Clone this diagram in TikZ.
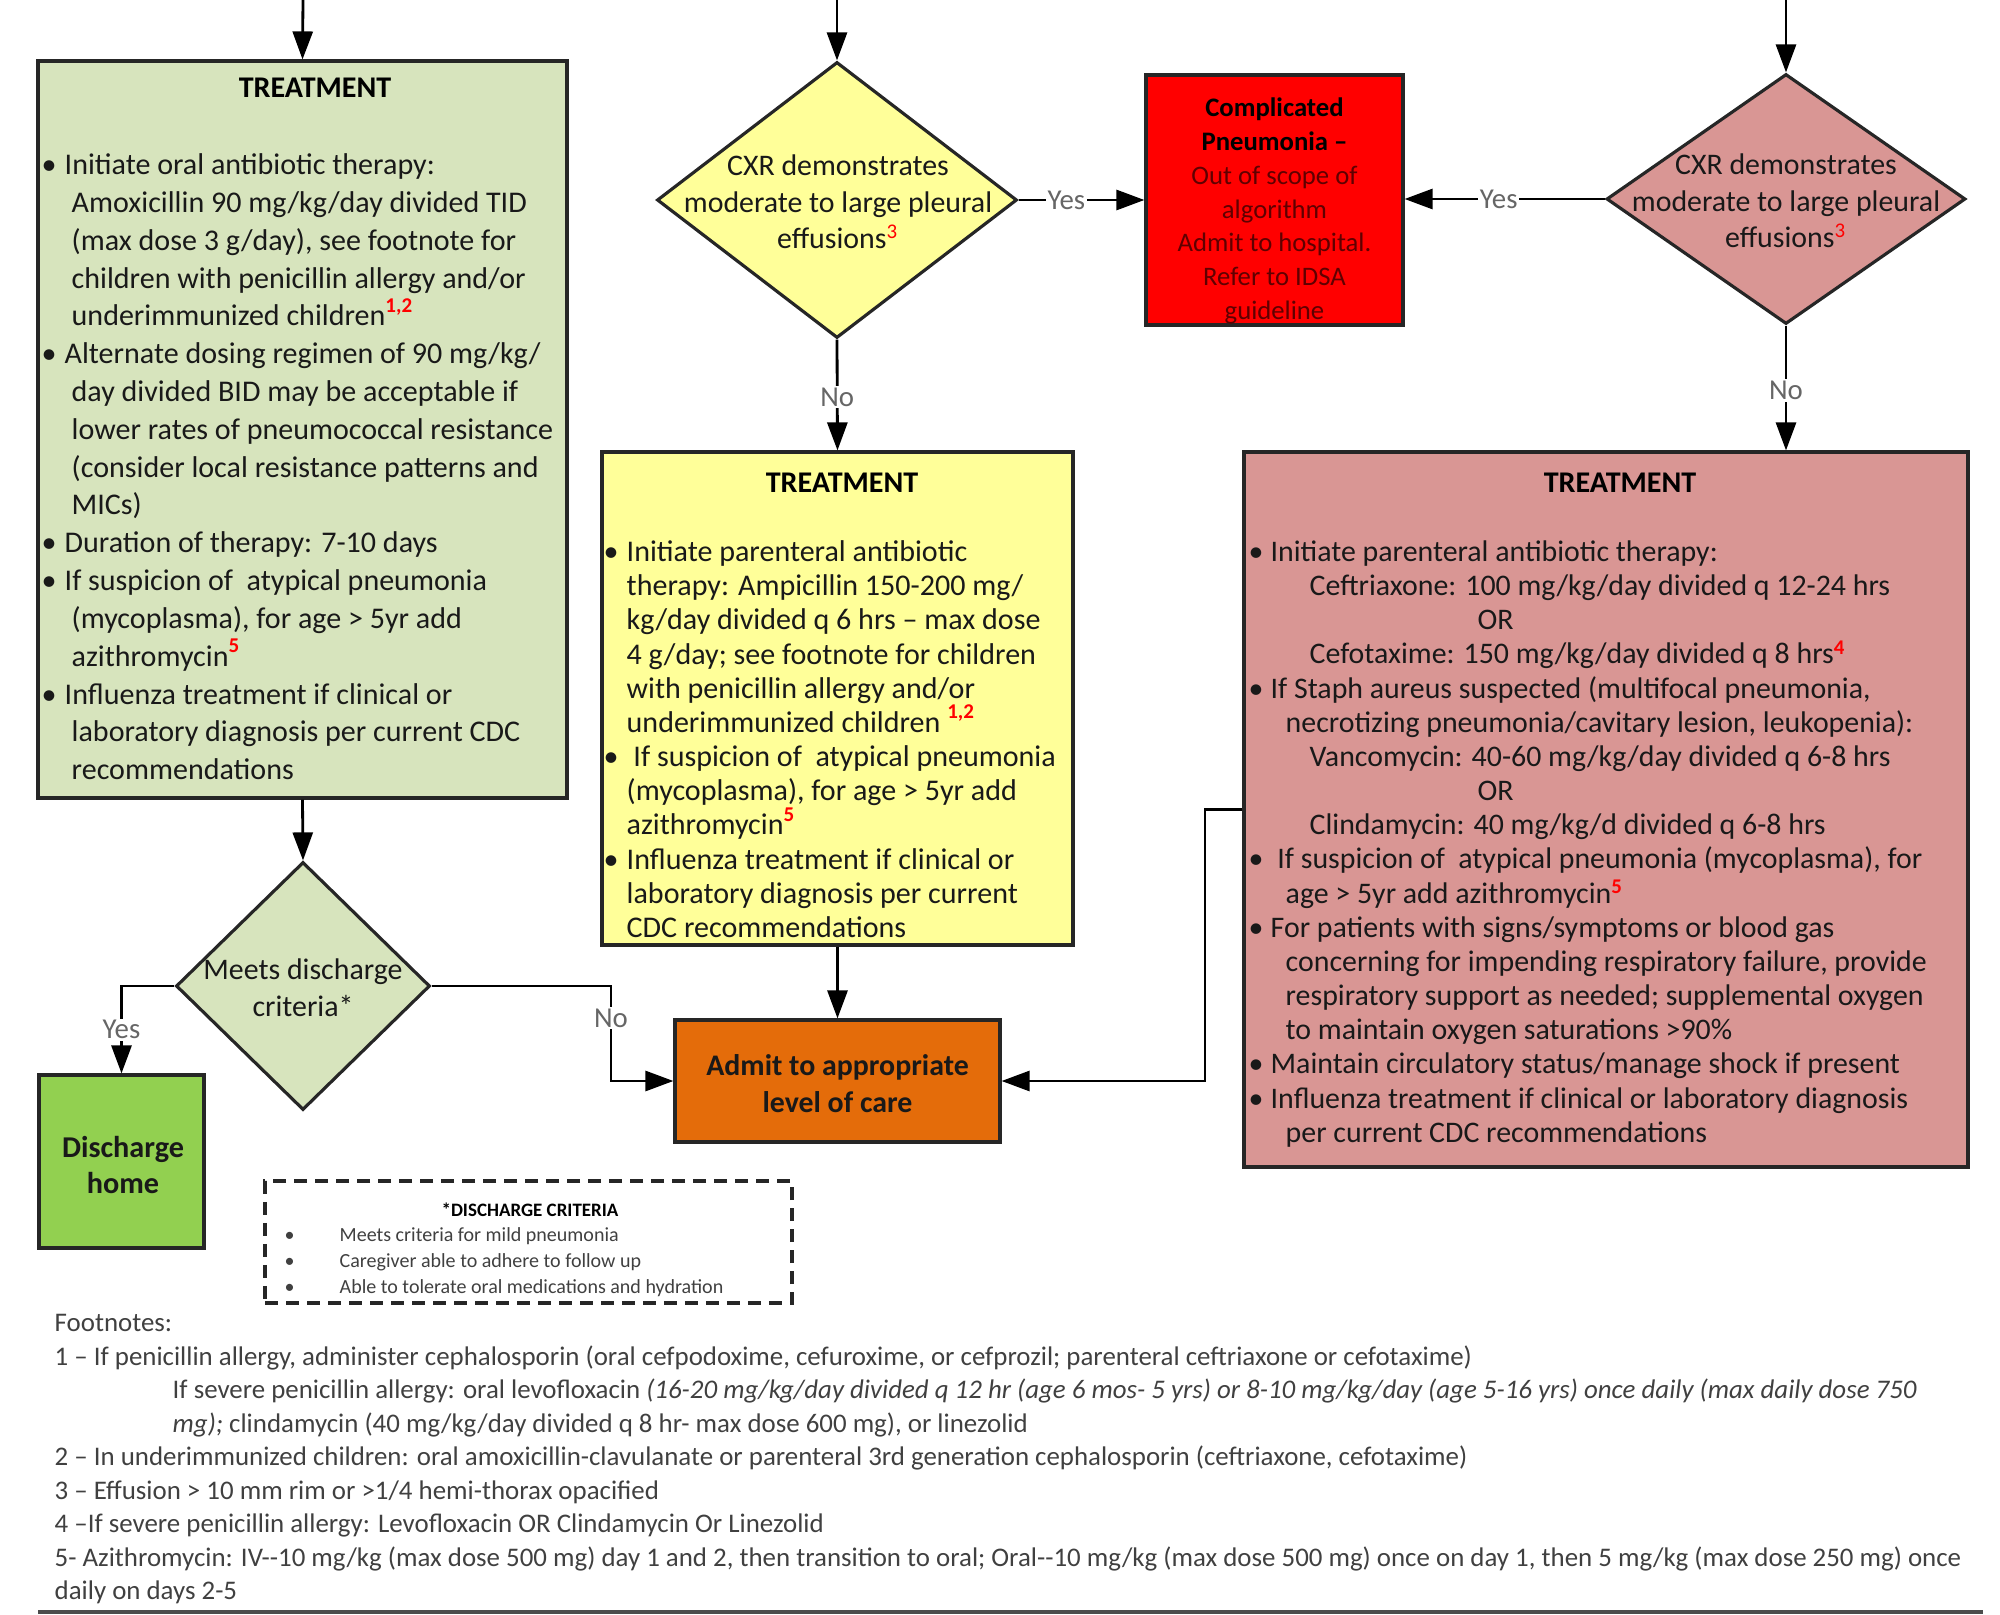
\documentclass[tikz,border=0pt]{standalone}
\usepackage{fontspec}
\setmainfont{Carlito}
\usepackage{tikz}
\usetikzlibrary{shapes.geometric,arrows.meta,calc}
\definecolor{sage}{RGB}{215,228,189}
\definecolor{paleyellow}{RGB}{255,255,153}
\definecolor{rosepink}{RGB}{217,150,148}
\definecolor{brightred}{RGB}{255,0,0}
\definecolor{burntorange}{RGB}{228,108,10}
\definecolor{leafgreen}{RGB}{146,208,80}
\definecolor{maroontext}{RGB}{95,0,0}
\definecolor{inkgray}{RGB}{64,64,64}
\newcommand{\fsz}[2]{\fontsize{#1}{#2}\selectfont}
\newcommand{\fnref}[1]{\textsuperscript{\textbf{\color{red}#1}}}
\newcommand{\bul}[1]{\makebox[#1][l]{\textbullet}}
\newcommand{\ind}[1]{\hspace*{#1}}
\tikzstyle{flowbox}=[rectangle,draw=black!85,line width=0.9pt,inner sep=0pt]
\tikzstyle{decision}=[diamond,draw=black!85,line width=0.9pt,inner sep=0pt]
\tikzstyle{head}=[font=\bfseries\fsz{8.55}{10.4},inner sep=0pt]
\tikzstyle{listtxt}=[align=left,anchor=north west,inner sep=0pt,text=black!90]
\tikzstyle{ctrtxt}=[align=center,inner sep=0pt,text=black!90]
\tikzstyle{yn}=[fill=white,text=black!60,inner sep=0.5pt,font=\fsz{8.2}{9}]
\tikzstyle{arr}=[draw=black,line width=0.8pt,-{Triangle[length=2.8mm,width=2mm]}]

\begin{document}
\begin{tikzpicture}[x=0.1mm,y=-0.1mm]
\useasboundingbox (0,0) rectangle (2000,1615);
\coordinate (inA) at (303,0);
\coordinate (inB) at (837,0);
\coordinate (inC) at (1786,0);

% mild column
\draw (302.5,429.5) node [flowbox,fill=sage,minimum width=52.9mm,minimum height=73.7mm] (treatA) {};
\draw (315,88) node [head] (treatAhd) {TREATMENT};
\draw (41,153) node [listtxt,font=\fsz{8.55}{10.76}] (treatAtx) {%
\bul{2.3mm}Initiate oral antibiotic therapy:\\
\ind{3mm}Amoxicillin 90 mg/kg/day divided TID\\
\ind{3mm}(max dose 3 g/day), see footnote for\\
\ind{3mm}children with penicillin allergy and/or\\
\ind{3mm}underimmunized children\fnref{1,2}\\
\bul{2.3mm}Alternate dosing regimen of 90 mg/kg/\\
\ind{3mm}day divided BID may be acceptable if\\
\ind{3mm}lower rates of pneumococcal resistance\\
\ind{3mm}(consider local resistance patterns and\\
\ind{3mm}MICs)\\
\bul{2.3mm}Duration of therapy: 7-10 days\\
\bul{2.3mm}If suspicion of\ \ atypical pneumonia\\
\ind{3mm}(mycoplasma), for age > 5yr add\\
\ind{3mm}azithromycin\fnref{5}\\
\bul{2.3mm}Influenza treatment if clinical or\\
\ind{3mm}laboratory diagnosis per current CDC\\
\ind{3mm}recommendations};
\draw (303,986) node [decision,fill=sage,minimum width=25.4mm,minimum height=24.8mm] (dcA) {};
\draw (303,988) node [ctrtxt,font=\fsz{8.5}{10.5}] (dcAtx) {Meets discharge\\criteria*};
\draw (121.5,1161.5) node [flowbox,fill=leafgreen,minimum width=16.5mm,minimum height=17.3mm] (home) {};
\draw (123,1165) node [ctrtxt,font=\bfseries\fsz{8.6}{10.3}] (hometx) {Discharge\\home};
\draw (528.5,1242) node [flowbox,dashed,dash pattern=on 1.3mm off 0.8mm,line width=1pt,minimum width=52.7mm,minimum height=12.2mm] (crit) {};
\draw (530,1210) node [font=\bfseries\fsz{5.4}{7},inner sep=0pt] (crithd) {*DISCHARGE CRITERIA};
\draw (284,1227) node [listtxt,font=\fsz{5.7}{7.4},text=inkgray] (crittx) {%
\bul{5.5mm}Meets criteria for mild pneumonia\\
\bul{5.5mm}Caregiver able to adhere to follow up\\
\bul{5.5mm}Able to tolerate oral medications and hydration};

% moderate column
\draw (837,200) node [decision,fill=paleyellow,minimum width=36mm,minimum height=27.6mm] (cxrB) {};
\draw (838,202) node [ctrtxt,font=\fsz{8.5}{10.4}] (cxrBtx) {CXR demonstrates\\moderate to large pleural\\effusions{\color{red}\textsuperscript{3}}};
\draw (837.5,698.5) node [flowbox,fill=paleyellow,minimum width=47.1mm,minimum height=49.3mm] (treatB) {};
\draw (842,483) node [head] (treatBhd) {TREATMENT};
\draw (603,540) node [listtxt,font=\fsz{8.55}{9.72}] (treatBtx) {%
\bul{2.3mm}Initiate parenteral antibiotic\\
\ind{2.3mm}therapy: Ampicillin 150-200 mg/\\
\ind{2.3mm}kg/day divided q 6 hrs – max dose\\
\ind{2.3mm}4 g/day; see footnote for children\\
\ind{2.3mm}with penicillin allergy and/or\\
\ind{2.3mm}underimmunized children \fnref{1,2}\\
\bul{2.3mm}\ If suspicion of\ \ atypical pneumonia\\
\ind{2.3mm}(mycoplasma), for age > 5yr add\\
\ind{2.3mm}azithromycin\fnref{5}\\
\bul{2.3mm}Influenza treatment if clinical or\\
\ind{2.3mm}laboratory diagnosis per current\\
\ind{2.3mm}CDC recommendations};
\draw (837.5,1081) node [flowbox,fill=burntorange,minimum width=32.5mm,minimum height=12.2mm] (admit) {};
\draw (837.5,1084) node [ctrtxt,font=\bfseries\fsz{8.5}{10.5}] (admittx) {Admit to appropriate\\level of care};
\draw (1274.5,200) node [flowbox,fill=brightred,minimum width=25.7mm,minimum height=25mm] (compl) {};
\draw (1274.5,211) node [ctrtxt,font=\fsz{7.6}{9.65},text=maroontext] (compltx) {%
\textcolor{black}{\textbf{Complicated}}\\
\textcolor{black}{\textbf{Pneumonia –}}\\
Out of scope of\\ algorithm\\ Admit to hospital.\\ Refer to IDSA\\ guideline};

% severe column
\draw (1786,199) node [decision,fill=rosepink,minimum width=35.9mm,minimum height=25mm] (cxrC) {};
\draw (1786,201) node [ctrtxt,font=\fsz{8.5}{10.4}] (cxrCtx) {CXR demonstrates\\moderate to large pleural\\effusions{\color{red}\textsuperscript{3}}};
\draw (1606,809.5) node [flowbox,fill=rosepink,minimum width=72.4mm,minimum height=71.5mm] (treatC) {};
\draw (1620,483) node [head] (treatChd) {TREATMENT};
\draw (1248,540) node [listtxt,font=\fsz{8.5}{9.72}] (treatCtx) {%
\bul{2.2mm}Initiate parenteral antibiotic therapy:\\
\ind{6.1mm}Ceftriaxone: 100 mg/kg/day divided q 12-24 hrs\\
\ind{22.9mm}OR\\
\ind{6.1mm}Cefotaxime: 150 mg/kg/day divided q 8 hrs\fnref{4}\\
\bul{2.2mm}If Staph aureus suspected (multifocal pneumonia,\\
\ind{3.7mm}necrotizing pneumonia/cavitary lesion, leukopenia):\\
\ind{6.1mm}Vancomycin: 40-60 mg/kg/day divided q 6-8 hrs\\
\ind{22.9mm}OR\\
\ind{6.1mm}Clindamycin: 40 mg/kg/d divided q 6-8 hrs\\
\bul{2.2mm}\ If suspicion of\ \ atypical pneumonia (mycoplasma), for\\
\ind{3.7mm}age > 5yr add azithromycin\fnref{5}\\
\bul{2.2mm}For patients with signs/symptoms or blood gas\\
\ind{3.7mm}concerning for impending respiratory failure, provide\\
\ind{3.7mm}respiratory support as needed; supplemental oxygen\\
\ind{3.7mm}to maintain oxygen saturations >90\%\\
\bul{2.2mm}Maintain circulatory status/manage shock if present\\
\bul{2.2mm}Influenza treatment if clinical or laboratory diagnosis\\
\ind{3.7mm}per current CDC recommendations};

% connectors
\coordinate (nobend) at (611,986);
\coordinate (cbend) at (1205,809.5);
\draw[arr] (inA) -- (treatA.north);
\draw[arr] (inB) -- (cxrB.north);
\draw[arr] (inC) -- (cxrC.north);
\draw[arr] (treatA.south) -- (dcA.north);
\draw[arr] (dcA.west) -| node[yn,pos=.75] {Yes} (home.north);
\draw[arr] (dcA.east) -- (nobend) |- node[yn,pos=.17] {No} (admit.west);
\draw[arr] (cxrB.east) -- node[yn,pos=.38] {Yes} (compl.west);
\draw[arr] (cxrB.south) -- node[yn,pos=.52] {No} (treatB.north);
\draw[arr] (treatB.south) -- (admit.north);
\draw[arr] (cxrC.west) -- node[yn,pos=.53] {Yes} (compl.east |- cxrC.west);
\draw[arr] (cxrC.south) -- node[yn,pos=.52] {No} (cxrC.south |- treatC.north);
\draw[arr] (treatC.west) -- (cbend) |- (admit.east);

% footnotes
\draw (54,1314) node [listtxt,font=\fsz{7.65}{9.53},text=inkgray] (notes) {%
Footnotes:\\
1 – If penicillin allergy, administer cephalosporin (oral cefpodoxime, cefuroxime, or cefprozil; parenteral ceftriaxone or cefotaxime)\\
\ind{11.8mm}If severe penicillin allergy: oral levofloxacin \textit{(16-20 mg/kg/day divided q 12 hr (age 6 mos- 5 yrs) or 8-10 mg/kg/day (age 5-16 yrs) once daily (max daily dose 750}\\
\ind{11.8mm}\textit{mg);} clindamycin (40 mg/kg/day divided q 8 hr- max dose 600 mg), or linezolid\\
2 – In underimmunized children: oral amoxicillin-clavulanate or parenteral 3rd generation cephalosporin (ceftriaxone, cefotaxime)\\
3 – Effusion > 10 mm rim or >1/4 hemi-thorax opacified\\
4 –If severe penicillin allergy: Levofloxacin OR Clindamycin Or Linezolid\\
5- Azithromycin: IV-{}-10 mg/kg (max dose 500 mg) day 1 and 2, then transition to oral; Oral-{}-10 mg/kg (max dose 500 mg) once on day 1, then 5 mg/kg (max dose 250 mg) once\\
daily on days 2-5};
\coordinate (ruleL) at (38,1612);
\coordinate (ruleR) at (1983,1612);
\draw[line width=1.3pt,black!70] (ruleL) -- (ruleR);
\end{tikzpicture}
\end{document}
